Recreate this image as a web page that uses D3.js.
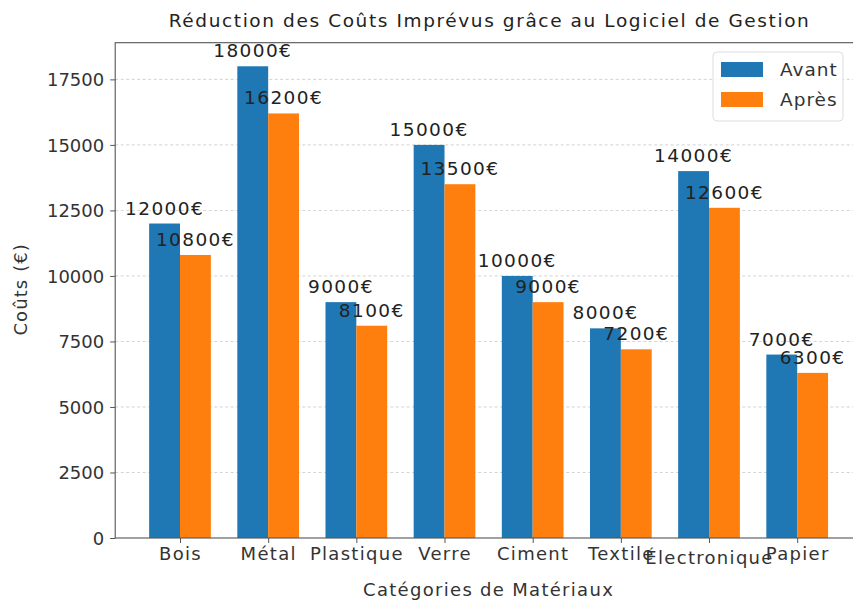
<!DOCTYPE html>
<html><head><meta charset="utf-8">
<script src="https://cdn.jsdelivr.net/npm/d3@7/dist/d3.min.js"></script>
<style>
body{margin:0;background:#fff;}
svg{display:block;font-family:"DejaVu Sans",sans-serif;}
</style></head>
<body><svg id="c" width="853" height="601"></svg>
<script>
const categories = ["Bois","Métal","Plastique","Verre","Ciment","Textile","Électronique","Papier"];
const avant = [12000,18000,9000,15000,10000,8000,14000,7000];
const apres = [10800,16200,8100,13500,9000,7200,12600,6300];
const seriesNames = ["Avant","Après"];
const yTicks = [0,2500,5000,7500,10000,12500,15000,17500];
const title = "Réduction des Coûts Imprévus grâce au Logiciel de Gestion";
const xLabel = "Catégories de Matériaux";
const yLabel = "Coûts (€)";
const colors = ["#1f77b4","#ff7f0e"];

const L=115.2, R=862, T=42.7, B=538;
const bw = 0.35;
const svg = d3.select("#c");
const x = d3.scaleLinear().domain([-0.735, 7.735]).range([L,R]);
const y = d3.scaleLinear().domain([0,18900]).range([B,T]);
const txt = "#333";

// grid
svg.append("g").selectAll("line").data(yTicks.slice(1)).join("line")
  .attr("x1",L).attr("x2",R).attr("y1",d=>y(d)).attr("y2",d=>y(d))
  .attr("stroke","#bbb").attr("stroke-width",0.8).attr("stroke-dasharray","3,2.5").attr("opacity",0.8);

// bars
const data = [avant, apres];
data.forEach((vals,s)=>{
  svg.append("g").selectAll("rect").data(vals).join("rect")
    .attr("x",(d,i)=>x(i - bw + s*bw))
    .attr("width",(d,i)=>x(i + s*bw) - x(i - bw + s*bw))
    .attr("y",d=>y(d)).attr("height",d=>B-y(d))
    .attr("fill",colors[s]);
});

// frame
svg.append("rect").attr("x",L).attr("y",T).attr("width",R-L).attr("height",B-T)
  .attr("fill","none").attr("stroke","#555").attr("stroke-width",1.1);

// value labels
data.forEach((vals,s)=>{
  svg.append("g").selectAll("text").data(vals).join("text")
    .attr("x",(d,i)=>x(i - bw/2 + s*bw))
    .attr("y",d=>y(d)-9)
    .attr("text-anchor","middle")
    .attr("font-size",18.5).attr("fill","#222").attr("letter-spacing",1.4)
    .text(d=>d+"€");
});

// y axis
const ya = svg.append("g").attr("transform",`translate(${L},0)`)
  .call(d3.axisLeft(y).tickValues(yTicks).tickSize(5).tickPadding(6).tickFormat(d=>String(d)));
ya.select(".domain").remove();
ya.selectAll("line").attr("stroke","#555");
ya.selectAll("text").attr("font-size",18).attr("fill",txt).attr("font-family","DejaVu Sans").attr("dy","0.36em");

// x axis
const xa = svg.append("g").attr("transform",`translate(0,${B})`)
  .call(d3.axisBottom(x).tickValues(d3.range(categories.length)).tickSize(5).tickPadding(3).tickFormat(i=>categories[i]));
xa.select(".domain").remove();
xa.selectAll("line").attr("stroke","#555");
xa.selectAll("text").attr("font-size",18).attr("fill",txt).attr("font-family","DejaVu Sans")
  .attr("letter-spacing",1.3)
  .attr("dy",(d)=>categories[d].startsWith("É")?"0.98em":"0.8em");

// title & labels
svg.append("text").attr("x",(L+R)/2+1).attr("y",27).attr("text-anchor","middle")
  .attr("font-size",18.5).attr("fill","#222").attr("letter-spacing",1.6).text(title);
svg.append("text").attr("x",(L+R)/2).attr("y",596).attr("text-anchor","middle")
  .attr("font-size",18).attr("fill",txt).attr("letter-spacing",1.3).text(xLabel);
svg.append("text").attr("transform",`translate(27,${(T+B)/2 - 1}) rotate(-90)`).attr("text-anchor","middle")
  .attr("font-size",18).attr("fill",txt).attr("letter-spacing",1.1).text(yLabel);

// legend
const lg = svg.append("g");
lg.append("rect").attr("x",713).attr("y",52).attr("width",130).attr("height",69).attr("rx",4)
  .attr("fill","#fff").attr("fill-opacity",0.85).attr("stroke","#ddd");
seriesNames.forEach((n,k)=>{
  lg.append("rect").attr("x",721).attr("y",62+k*30).attr("width",42).attr("height",15).attr("fill",colors[k]);
  lg.append("text").attr("x",780).attr("y",76+k*30).attr("font-size",18.5).attr("fill",txt)
    .attr("letter-spacing",1.0).text(n);
});
</script></body></html>
